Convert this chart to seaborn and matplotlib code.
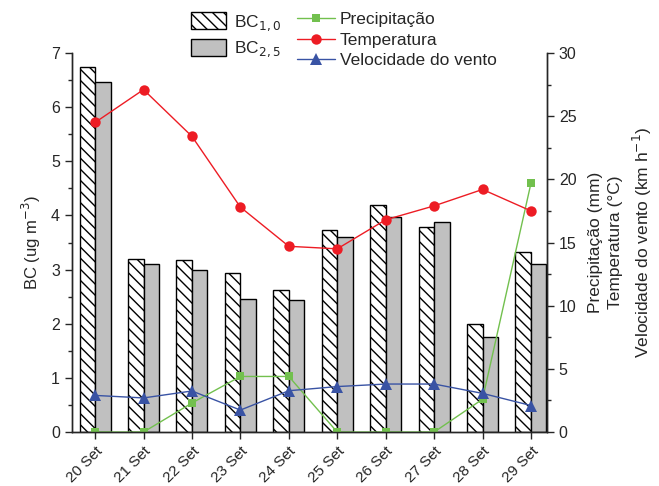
import numpy as np
import pandas as pd
import matplotlib
matplotlib.use("Agg")
from matplotlib import pyplot as plt
from matplotlib.patches import Patch
from matplotlib.lines import Line2D
from matplotlib.ticker import MultipleLocator
import seaborn as sns

dias = ["20 Set", "21 Set", "22 Set", "23 Set", "24 Set",
        "25 Set", "26 Set", "27 Set", "28 Set", "29 Set"]
bc10 = [6.75, 3.20, 3.18, 2.93, 2.63, 3.74, 4.19, 3.78, 2.00, 3.32]
bc25 = [6.47, 3.10, 3.00, 2.46, 2.44, 3.61, 3.97, 3.88, 1.76, 3.10]
precipitacao = [0.0, 0.0, 2.3, 4.4, 4.4, 0.0, 0.0, 0.0, 2.6, 19.7]
temperatura = [24.5, 27.1, 23.4, 17.8, 14.7, 14.5, 16.8, 17.9, 19.2, 17.5]
vento = [2.9, 2.7, 3.25, 1.74, 3.27, 3.6, 3.8, 3.8, 3.06, 2.1]

sns.set_style("ticks")
plt.rcParams['font.family'] = ['Liberation Sans', 'DejaVu Sans']
plt.rcParams['hatch.linewidth'] = 1.0
plt.rcParams['xtick.direction'] = 'out'
plt.rcParams['ytick.direction'] = 'out'

verde, vermelho, azul = "#72c04e", "#ed1c24", "#3953a4"

df = pd.DataFrame({
    "dia": dias * 2,
    "BC": bc10 + bc25,
    "tipo": ["BC1.0"] * len(dias) + ["BC2.5"] * len(dias),
})

fig = plt.figure(figsize=(6.59, 4.86), dpi=100)
ax = fig.add_axes([0.109, 0.111, 0.721, 0.780])

sns.barplot(data=df, x="dia", y="BC", hue="tipo", ax=ax, width=0.64,
            palette=["white", "#c0c0c0"], edgecolor="black", linewidth=1.0,
            legend=False, saturation=1)
for bar in ax.containers[0]:
    bar.set_hatch("\\\\\\")

ax.set_ylim(0, 7)
ax.set_xlim(-0.48, 9.33)
ax.yaxis.set_major_locator(MultipleLocator(1))
ax.yaxis.set_minor_locator(MultipleLocator(0.5))
ax.set_ylabel("BC (ug m$^{-3}$)", fontsize=12, labelpad=6)
ax.set_xlabel("")
ax.tick_params(axis='x', labelsize=11, length=5, width=1)
ax.tick_params(axis='y', which='major', labelsize=11.5, length=5, width=1)
ax.tick_params(axis='y', which='minor', length=3, width=1)
plt.setp(ax.get_xticklabels(), rotation=45, ha='right', rotation_mode='anchor')
ax.spines['top'].set_visible(False)

ax2 = ax.twinx()
x = np.arange(len(dias))
sns.lineplot(x=x, y=precipitacao, ax=ax2, color=verde, marker="s",
             markersize=6, markeredgewidth=0, linewidth=1.0)
sns.lineplot(x=x, y=temperatura, ax=ax2, color=vermelho, marker="o",
             markersize=7.5, markeredgewidth=0, linewidth=1.0)
sns.lineplot(x=x, y=vento, ax=ax2, color=azul, marker="^",
             markersize=8, markeredgewidth=0, linewidth=1.0)
ax2.set_ylim(0, 30)
ax2.set_xlim(-0.48, 9.33)
ax2.yaxis.set_major_locator(MultipleLocator(5))
ax2.yaxis.set_minor_locator(MultipleLocator(2.5))
ax2.tick_params(axis='y', which='major', labelsize=11.5, length=5, width=1)
ax2.tick_params(axis='y', which='minor', length=3, width=1)
ax2.spines['top'].set_visible(False)
ax2.set_ylabel("Precipitação (mm)\nTemperatura (°C)\nVelocidade do vento (km h$^{-1}$)",
               fontsize=12.5, labelpad=8, linespacing=1.45)

for a in (ax, ax2):
    for s in a.spines.values():
        s.set_linewidth(1.0)

bar_handles = [Patch(facecolor="white", edgecolor="black", hatch="\\\\\\"),
               Patch(facecolor="#c0c0c0", edgecolor="black")]
fig.legend(bar_handles, ["BC$_{1,0}$", "BC$_{2,5}$"],
           loc="upper left", bbox_to_anchor=(0.29, 0.975),
           frameon=False, fontsize=12.5, handlelength=2.0,
           handleheight=1.15, labelspacing=0.35, handletextpad=0.45,
           borderpad=0, borderaxespad=0)

line_handles = [
    Line2D([], [], color=verde, marker="s", markersize=6, markeredgewidth=0, lw=1),
    Line2D([], [], color=vermelho, marker="o", markersize=7.5, markeredgewidth=0, lw=1),
    Line2D([], [], color=azul, marker="^", markersize=8, markeredgewidth=0, lw=1),
]
fig.legend(line_handles, ["Precipitação", "Temperatura", "Velocidade do vento"],
           loc="upper left", bbox_to_anchor=(0.45, 0.975), frameon=False,
           fontsize=12.5, handlelength=2.2, labelspacing=0.3, handletextpad=0.3,
           borderpad=0, borderaxespad=0)

fig.savefig("out.png", dpi=100)
